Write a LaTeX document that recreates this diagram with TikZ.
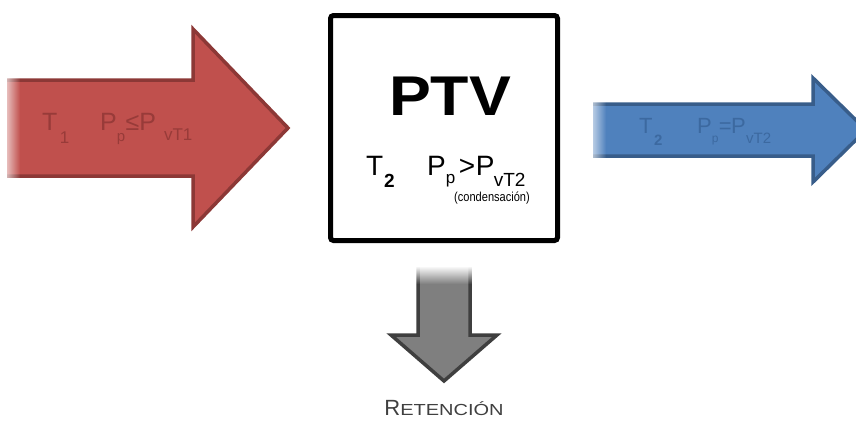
\documentclass[tikz,border=0pt]{standalone}
\usepackage{fontspec}
\setmainfont{Liberation Sans}
\usetikzlibrary{fadings}
\definecolor{redfill}{HTML}{C0504D}
\definecolor{redline}{HTML}{8C3836}
\definecolor{redtext}{HTML}{983B39}
\definecolor{bluefill}{HTML}{4F81BD}
\definecolor{blueline}{HTML}{385D8A}
\definecolor{bluetext}{HTML}{3C69A0}
\definecolor{grayfill}{HTML}{7F7F7F}
\definecolor{grayline}{HTML}{3F3F3F}
\definecolor{labeltext}{HTML}{404040}
\newcommand{\fs}[1]{\fontsize{#1}{#1}\selectfont}
\newcommand{\lowsub}[3]{\raisebox{-#1pt}{\fs{#2}#3}}
\begin{document}
\begin{tikzpicture}[x=1pt,y=-1pt,
  piece/.style={anchor=base west,inner sep=0pt,outer sep=0pt},
  arrowline/.style={line width=3.5pt,line join=miter}]
\useasboundingbox (0,0) rectangle (856,421);
\clip (0,0) rectangle (856,421);
% ---------- red arrow ----------
\fill[redfill] (0,80) -- (193,80) -- (193,29) -- (288,128) -- (193,227) -- (193,176) -- (0,176) -- cycle;
\draw[redline,arrowline] (0,80) -- (193,80) -- (193,29) -- (288,128) -- (193,227) -- (193,176) -- (0,176);
\fill[white,path fading=east] (-1,70) rectangle (20,186);
\fill[white] (-1,70) rectangle (7,186);
\node[piece,font=\fs{25},text=redtext] (rT) at (42,130) {T\kern2.7pt\lowsub{13}{17}{1}};
\node[piece,font=\fs{25},text=redtext] (rP) at (100,130)
  {P\kern0.3pt\lowsub{11}{15}{p}\kern0.3pt≤P\kern8pt\lowsub{10}{17}{vT1}};
% ---------- blue arrow ----------
\fill[bluefill] (585,104) -- (813,104) -- (813,78) -- (866,130) -- (813,182) -- (813,156) -- (585,156) -- cycle;
\draw[blueline,arrowline] (585,104) -- (813,104) -- (813,78) -- (866,130) -- (813,182) -- (813,156) -- (585,156);
\fill[white,path fading=east] (584,95) rectangle (606,165);
\fill[white] (580,95) rectangle (593,165);
\node[piece,font=\fs{22},text=bluetext] (bT) at (639,133) {T\kern1.6pt\lowsub{12}{15}{\bfseries 2}};
\node[piece,font=\fs{22},text=bluetext] (bP) at (697,133)
  {P\kern0.3pt\lowsub{9}{12}{p}\kern0.3pt=\kern-0.8ptP\kern0.5pt\lowsub{10}{15}{vT2}};
% ---------- gray arrow ----------
\fill[grayfill] (418,262) -- (470,262) -- (470,335) -- (497,335) -- (444,381) -- (391,335) -- (418,335) -- cycle;
\draw[grayline,arrowline] (418,262) -- (418,335) -- (391,335) -- (444,381) -- (497,335) -- (470,335) -- (470,262);
\fill[white,path fading=south] (405,266) rectangle (484,284);
\fill[white] (405,250) rectangle (484,267);
\node[anchor=base,inner sep=0pt,text=labeltext] (ret) at (444,415)
  {\fs{22}R\fs{16}\scalebox{1.25}[1]{ETENCIÓN}};
% ---------- box ----------
\node[draw=black,line width=5pt,rounded corners=3pt,minimum width=227pt,minimum height=225pt,inner sep=0pt] (ptv) at (444,128) {};
\node[anchor=base,inner sep=0pt,font=\fs{56}\bfseries] (ptvlabel) at (450,115) {\scalebox{1.12}[1]{PTV}};
\node[piece,font=\fs{28}] (kT) at (366,175) {T\kern0.9pt\lowsub{12}{19}{\bfseries 2}};
\node[piece,font=\fs{28}] (kP) at (427,175)
  {P\kern0.3pt\lowsub{8}{17}{p}\kern3.5pt>\kern0.6ptP\kern-0.7pt\lowsub{11}{19}{vT2}};
\node[anchor=base,inner sep=0pt,font=\fs{13}] (kc) at (492,201) {\scalebox{0.85}[1]{(condensación)}};
\end{tikzpicture}
\end{document}
